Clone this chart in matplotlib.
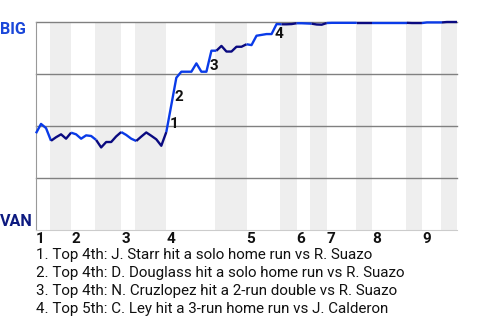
import numpy as np
import matplotlib
matplotlib.use("Agg")
import matplotlib.pyplot as plt

plt.rcParams['font.family'] = ['Roboto', 'DejaVu Sans']

# win probability for BIG after each plate appearance (0 = VAN wins, 1 = BIG wins)
win_prob = [
    0.465, 0.510, 0.490, 0.429,                      # top 1
    0.446, 0.460, 0.439, 0.468,                      # bot 1
    0.460, 0.439, 0.455, 0.452, 0.433,               # top 2
    0.397, 0.423, 0.423, 0.450, 0.471,               # bot 2
    0.457, 0.439, 0.428,                             # top 3
    0.449, 0.469, 0.453, 0.436, 0.405, 0.471,        # bot 3
    0.601, 0.732, 0.761, 0.761, 0.761, 0.801, 0.761, 0.761, 0.862, 0.862,  # top 4
    0.885, 0.858, 0.858, 0.881, 0.881, 0.893,        # bot 4
    0.889, 0.934, 0.938, 0.942, 0.942, 0.990, 0.989, # top 5
    0.989, 0.990, 0.994,                             # bot 5
    0.994, 0.993, 0.992,                             # top 6
    0.988, 0.987, 0.995,                             # bot 6
    0.996, 0.996, 0.996, 0.996, 0.996, 0.996,        # top 7
    0.996, 0.996, 0.996,                             # bot 7
    0.996, 0.996, 0.996, 0.996, 0.996, 0.996, 0.996, # top 8
    0.995, 0.995, 0.995,                             # bot 8
    0.998, 0.998, 0.998, 0.998,                      # top 9
    1.0, 1.0, 1.0,                                   # bot 9
]
# plate appearances per half inning
half_inning_pa = [3, 4, 5, 5, 3, 6, 10, 6, 7, 3, 3, 3, 6, 3, 7, 3, 4, 3]
innings = ["1", "2", "3", "4", "5", "6", "7", "8", "9"]

event_index = [27, 28, 35, 48]
event_labels = ["1", "2", "3", "4"]
event_text = [
    "1. Top 4th: J. Starr hit a solo home run vs R. Suazo",
    "2. Top 4th: D. Douglass hit a solo home run vs R. Suazo",
    "3. Top 4th: N. Cruzlopez hit a 2-run double vs R. Suazo",
    "4. Top 5th: C. Ley hit a 3-run home run vs J. Calderon",
]

top_color = "#0a3be8"
bot_color = "#0a0a80"

bounds = np.concatenate([[0], np.cumsum(half_inning_pa)])
n = bounds[-1]

fig = plt.figure(figsize=(4.8, 3.2), dpi=100)
ax = fig.add_axes([36 / 480, 90 / 320, 421 / 480, 208 / 320])
ax.set_xlim(0, n)
ax.set_ylim(0, 1)

# shaded bottom halves
for i in range(1, len(half_inning_pa), 2):
    ax.axvspan(bounds[i] - 0.25, bounds[i + 1], color="#eeeeee", lw=0, zorder=0)

for yv in [0.25, 0.5, 0.75, 1.0]:
    ax.axhline(yv, color="#808080", lw=1.0, zorder=1, clip_on=False)

x = np.arange(n + 1)
wp = np.array(win_prob)
for i in range(len(half_inning_pa)):
    a, b = bounds[i], bounds[i + 1]
    ax.plot(x[a:b + 1], wp[a:b + 1], color=top_color if i % 2 == 0 else bot_color,
            lw=1.7, zorder=3, solid_capstyle="butt", clip_on=False)

for k, lab in zip(event_index, event_labels):
    mx = k - 0.5
    my = (wp[k] + wp[k - 1]) / 2
    ax.annotate(lab, (mx, my), xytext=(0.6, -3.8), textcoords="offset points",
                ha="left", va="center", fontsize=11, fontweight="bold", color="#111111", zorder=4)

for s in ["top", "right"]:
    ax.spines[s].set_visible(False)
ax.spines["left"].set_color("#999999")
ax.spines["bottom"].set_color("#cccccc")
ax.set_xticks([])
ax.set_yticks([])

for j, lab in enumerate(innings):
    ax.annotate(lab, (bounds[2 * j], 0), xytext=(0, -13.3 * 0.72), textcoords="offset points",
                ha="left", va="baseline", fontsize=11, fontweight="bold", color="#111111")

fig.text(26 / 480, 1 - 34.5 / 320, "BIG", ha="right", va="baseline", fontsize=11.6,
         fontweight="bold", color="#1a47d9")
fig.text(33 / 480, 1 - 225.9 / 320, "VAN", ha="right", va="baseline", fontsize=11.6,
         fontweight="bold", color="#0d1a80")

for i, t in enumerate(event_text):
    fig.text(36 / 480, 1 - (258.7 + 18 * i) / 320, t, ha="left", va="baseline",
             fontsize=10.9, color="#111111")

fig.savefig("out.png", dpi=100)
